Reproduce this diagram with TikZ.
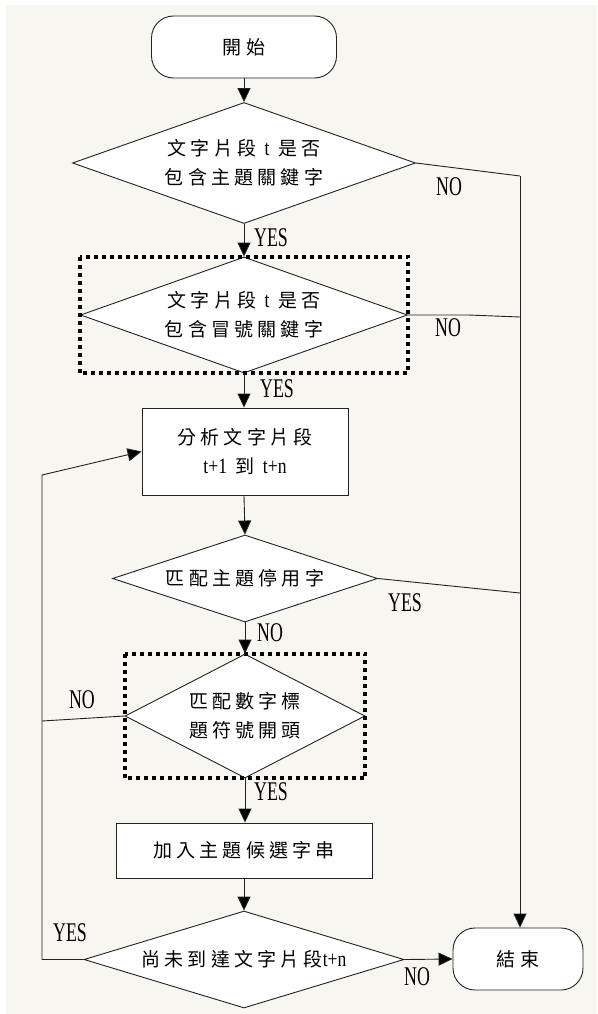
\documentclass[tikz,border=0pt]{standalone}
\usepackage{fontspec}
\usetikzlibrary{shapes.geometric,arrows.meta}
\newfontfamily\cjk[LetterSpace=22]{Noto Sans CJK TC}
\newfontfamily\lab[FakeStretch=0.66]{Liberation Serif}
\newfontfamily\latf[FakeStretch=0.8]{Liberation Serif}
\newcommand{\lat}[1]{{\latf\fontsize{22}{29}\selectfont #1}}
\definecolor{bgcream}{RGB}{248,246,240}
\definecolor{ink}{RGB}{35,35,35}
\begin{document}
\begin{tikzpicture}[x=1pt,y=-1pt,
  line/.style={draw=ink, line width=0.9pt},
  arr/.style={line, -{Triangle[length=14pt,width=13pt,fill=black]}},
  txt/.style={font=\cjk\fontsize{19}{29}\selectfont, align=center, inner sep=0pt, text=black},
  term/.style={txt, draw=ink, line width=0.9pt, fill=white, rounded corners=22pt},
  proc/.style={txt, draw=ink, line width=0.9pt, fill=white},
  dec/.style={txt, diamond, draw=ink, line width=0.9pt, fill=white},
  dotbox/.style={draw=black, line width=4pt, dash pattern=on 4pt off 4pt},
  lbl/.style={font=\lab\fontsize{27}{27}\selectfont, inner sep=0pt, text=black}
]
\useasboundingbox (0,0) rectangle (597,1014);
\fill[white] (0,0) rectangle (597,1014);
\fill[bgcream] (6,5) rectangle (597,1014);

% nodes
\node[term, minimum width=185pt, minimum height=62pt] (start) at (244,47) {開始};
\node[dec, aspect=2.83, minimum width=343pt, minimum height=121pt] (d1) at (244,163)
  {文字片段 \lat{t} 是否\\包含主題關鍵字};
\node[dec, aspect=2.82, minimum width=327pt, minimum height=116pt] (d2) at (244,315)
  {文字片段 \lat{t} 是否\\包含冒號關鍵字};
\node[proc, minimum width=206pt, minimum height=87pt] (p1) at (245,451.5)
  {分析文字片段\\\lat{t+1} 到 \lat{t+n}};
\node[dec, aspect=3.05, minimum width=265pt, minimum height=87pt] (d3) at (245,578.5)
  {匹配主題停用字};
\node[dec, aspect=1.94, minimum width=240pt, minimum height=124pt] (d4) at (245,716)
  {匹配數字標\\題符號開頭};
\node[proc, minimum width=256pt, minimum height=55pt] (p2) at (244,850.5)
  {加入主題候選字串};
\node[dec, aspect=3.3, minimum width=320pt, minimum height=97pt] (d5) at (244,959.5)
  {尚未到達文字片段\lat{t+n}};
\node[term, minimum width=130pt, minimum height=62pt] (end) at (518,959) {結束};

% dotted frames
\draw[dotbox] (d2.west |- d2.north) rectangle (d2.east |- d2.south);
\draw[dotbox] (d4.west |- d4.north) rectangle (d4.east |- d4.south);

% coordinates
\coordinate (r1) at (520,176);
\coordinate (r2) at (520,317);
\coordinate (r3) at (520,593);
\coordinate (l1) at (42,721);
\coordinate (l2) at (42,475);

% main flow
\draw[arr] (start.south) -- (d1.north);
\draw[arr] (d1.south) -- (d2.north);
\draw[arr] (d2.south) -- (p1.north -| d2.south);
\draw[arr] (p1.south -| d2.south) -- (d3.north);
\draw[arr] (d3.south) -- (d4.north);
\draw[arr] (d4.south) -- (p2.north -| d4.south);
\draw[arr] (p2.south) -- (d5.north);

% right side
\draw[line] (d1.east) -- (r1);
\draw[arr] (r1) -- (r1 |- end.north);
\draw[line] (d2.east) -- ++(60,0) -- (r2);
\draw[line] (d3.east) -- (r3);
\draw[arr] (d5.east) -- (end.west);

% left loop
\draw[line] (d4.west) -- (l1);
\draw[arr] (d5.west) -- (d5.west -| l2) -- (l2) -- (p1.west);

% labels
\node[lbl] (n1) at (449,187) {NO};
\node[lbl] (y1) at (271,238) {YES};
\node[lbl] (n2) at (448,328) {NO};
\node[lbl] (y2) at (277,389) {YES};
\node[lbl] (y3) at (405,603) {YES};
\node[lbl] (n3) at (270,633) {NO};
\node[lbl] (n4) at (82,700) {NO};
\node[lbl] (y4) at (271,792) {YES};
\node[lbl] (y5) at (70,933) {YES};
\node[lbl] (n5) at (417,977) {NO};
\end{tikzpicture}
\end{document}
